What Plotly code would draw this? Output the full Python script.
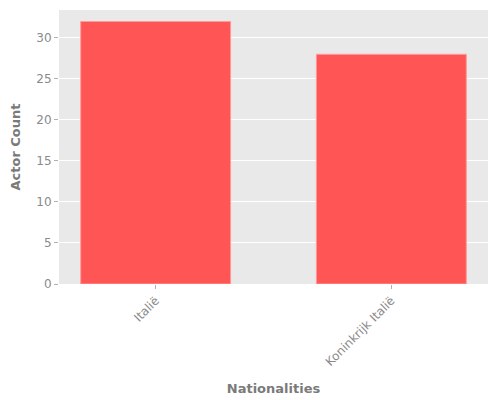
import plotly.graph_objects as go

nationalities = ["Italië", "Koninkrijk Italië"]
actor_counts = [32, 28]

fig = go.Figure()
fig.add_trace(go.Bar(x=nationalities, y=actor_counts,
                     marker=dict(color="#ff5555", line=dict(color="#ff9a9a", width=1))))

fig.update_layout(
    width=500, height=400,
    margin=dict(l=51, r=20, t=2, b=124),
    paper_bgcolor="white",
    plot_bgcolor="#e9e9e9",
    bargap=0.364,
    showlegend=False,
    font=dict(family="DejaVu Sans", size=12, color="#8a8a8a"),
)
fig.update_xaxes(
    title=dict(text="<b>Nationalities</b>", font=dict(size=13, color="#7a7a7a")),
    range=[-0.41, 1.41], tickangle=-45, showgrid=False, automargin=False,
    ticks="outside", ticklen=4, tickcolor="#b0b0b0",
)
fig.update_yaxes(
    title=dict(text="<b>Actor Count</b>", font=dict(size=13, color="#7a7a7a")),
    range=[0, 33.4], dtick=5, gridcolor="white", zeroline=False, automargin=False,
    ticks="outside", ticklen=4, tickcolor="#b0b0b0",
)

fig.write_html("out.html")
